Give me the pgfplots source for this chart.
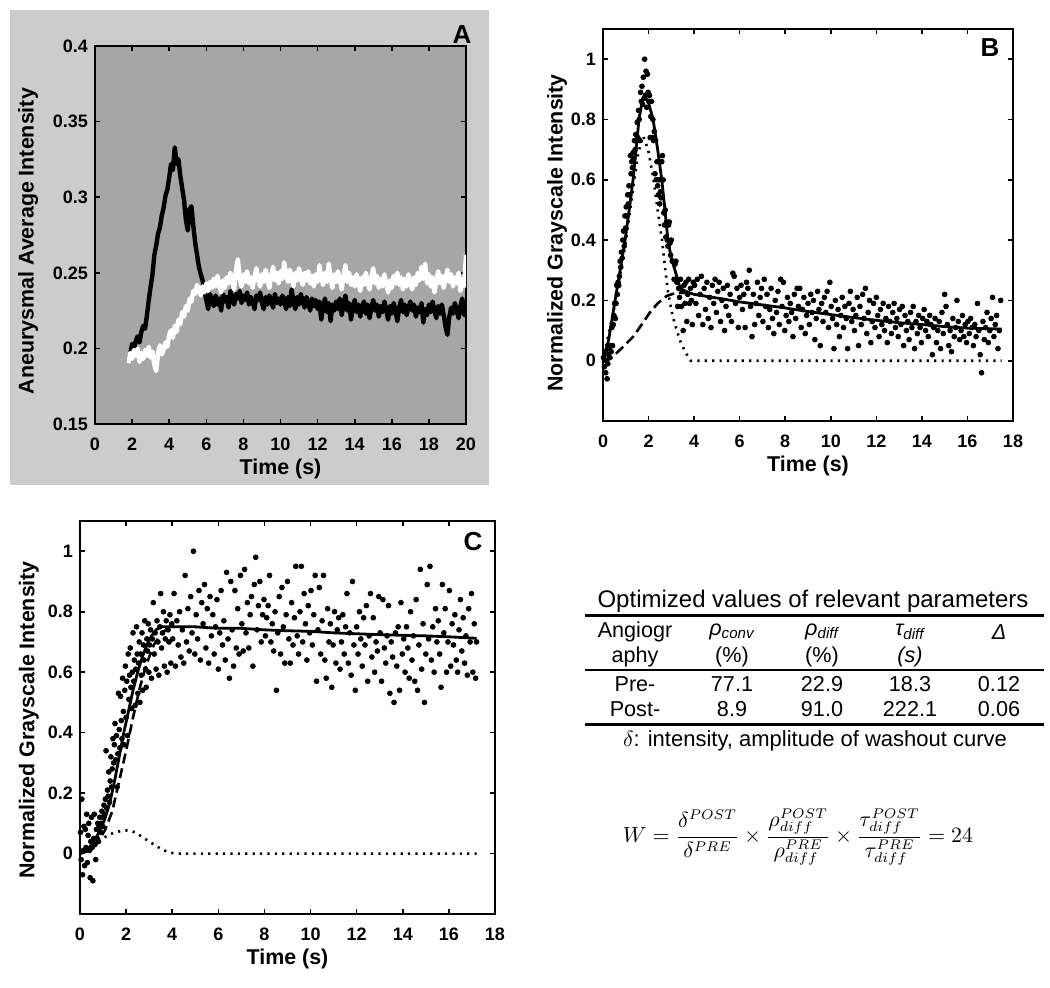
\documentclass[border=0pt]{standalone}
\usepackage{fontspec}
\setmainfont{Liberation Sans}
\usepackage{pgfplots}
\pgfplotsset{compat=1.18}
\definecolor{bggray}{RGB}{204,204,204}
\definecolor{axgray}{RGB}{166,166,166}
\pgfplotsset{myax/.style={scale only axis, tick align=inside, major tick length=2.5pt,
  axis line style={line width=0.9pt}, every tick/.style={black,line width=0.8pt},
  /pgf/number format/assume math mode=true,
  tick label style={font=\fontsize{9}{10}\selectfont\bfseries},
  xticklabel style={yshift=-3.5pt},
  label style={font=\fontsize{10.7}{12}\selectfont\bfseries}},
  fitsolid/.style={black,line width=1.4pt,line join=round},
  fitdash/.style={black,line width=1.3pt,dash pattern=on 5pt off 2.5pt},
  fitdot/.style={black,line width=1.3pt,dash pattern=on 1.1pt off 2.6pt},
  dots/.style={only marks,mark=*,mark size=1.2pt,black}}
\begin{document}
\begin{tikzpicture}
\path[use as bounding box, fill=white] (0,0) rectangle (525pt,-493.5pt);
\fill[bggray] (5pt,-5pt) rectangle (244.5pt,-242.5pt);
% ---------------- Panel A ----------------
\begin{axis}[myax, at={(47.5pt,-23pt)}, anchor=north west, width=185.5pt, height=189pt,
  xmin=0,xmax=20,ymin=0.15,ymax=0.4, xtick={0,2,...,20}, ytick={0.15,0.2,0.25,0.3,0.35,0.4},
  axis background/.style={fill=axgray},
  xlabel={Time (s)}, ylabel={Aneurysmal Average Intensity},
  xlabel style={at={(axis description cs:0.5,-0.118)},anchor=center},
  ylabel style={at={(axis description cs:-0.18,0.484)},anchor=center}]
\addplot[black,line width=2.2pt,line join=round] coordinates {
(1.8,.190)(1.9,.196)(2.0,.203)(2.1,.199)(2.2,.205)(2.3,.208)(2.4,.204)(2.5,.211)(2.6,.215)(2.7,.213)
(2.8,.222)(2.9,.232)(3.0,.241)(3.1,.249)(3.2,.262)(3.3,.268)(3.4,.276)(3.5,.280)(3.6,.288)(3.7,.293)
(3.8,.301)(3.9,.305)(4.0,.313)(4.1,.322)(4.2,.318)(4.3,.333)(4.4,.322)(4.5,.325)(4.6,.314)(4.7,.306)
(4.8,.298)(4.9,.285)(5.0,.278)(5.1,.292)(5.2,.294)(5.3,.281)(5.4,.270)(5.5,.262)(5.6,.254)(5.7,.249)
(5.8,.245)(5.9,.238)(6.0,.232)(6.1,.226)(6.2,.236)(6.3,.231)(6.4,.228)(6.5,.235)(6.6,.229)(6.7,.233)
(6.8,.225)(6.9,.236)(7.0,.231)(7.1,.234)(7.2,.227)(7.3,.238)(7.4,.232)(7.5,.229)(7.6,.236)(7.7,.233)
(7.8,.238)(7.9,.230)(8.0,.235)(8.1,.232)(8.2,.237)(8.3,.229)(8.4,.234)(8.5,.231)(8.6,.226)(8.7,.235)
(8.8,.232)(8.9,.237)(9.0,.230)(9.1,.226)(9.2,.234)(9.3,.229)(9.4,.235)(9.5,.231)(9.6,.227)(9.7,.236)
(9.8,.230)(9.9,.233)(10.0,.229)(10.1,.235)(10.2,.232)(10.3,.226)(10.4,.234)(10.5,.228)(10.6,.239)(10.7,.231)
(10.8,.226)(10.9,.234)(11.0,.229)(11.1,.236)(11.2,.231)(11.3,.227)(11.4,.234)(11.5,.230)(11.6,.225)(11.7,.233)
(11.8,.228)(11.9,.232)(12.0,.226)(12.1,.231)(12.2,.219)(12.3,.228)(12.4,.233)(12.5,.224)(12.6,.230)(12.7,.218)
(12.8,.229)(12.9,.225)(13.0,.231)(13.1,.226)(13.2,.233)(13.3,.222)(13.4,.229)(13.5,.235)(13.6,.225)(13.7,.230)
(13.8,.219)(13.9,.227)(14.0,.232)(14.1,.224)(14.2,.229)(14.3,.221)(14.4,.228)(14.5,.231)(14.6,.223)(14.7,.229)
(14.8,.220)(14.9,.227)(15.0,.232)(15.1,.225)(15.2,.229)(15.3,.221)(15.4,.228)(15.5,.224)(15.6,.231)(15.7,.226)
(15.8,.219)(15.9,.228)(16.0,.223)(16.1,.230)(16.2,.225)(16.3,.218)(16.4,.227)(16.5,.232)(16.6,.224)(16.7,.229)
(16.8,.222)(16.9,.227)(17.0,.231)(17.1,.225)(17.2,.229)(17.3,.221)(17.4,.227)(17.5,.224)(17.6,.230)(17.7,.217)
(17.8,.226)(17.9,.222)(18.0,.229)(18.1,.224)(18.2,.231)(18.3,.225)(18.4,.220)(18.5,.228)(18.6,.223)(18.7,.229)
(18.8,.222)(18.9,.214)(19.0,.209)(19.1,.221)(19.2,.227)(19.3,.223)(19.4,.230)(19.5,.225)(19.6,.220)(19.7,.228)
(19.8,.233)(19.9,.222)(20.0,.226)};
\addplot[white,line width=2.2pt,line join=round] coordinates {
(1.8,.190)(1.9,.197)(2.0,.193)(2.1,.199)(2.2,.195)(2.3,.200)(2.4,.191)(2.5,.197)(2.6,.193)(2.7,.199)
(2.8,.195)(2.9,.201)(3.0,.194)(3.1,.198)(3.2,.189)(3.3,.185)(3.4,.197)(3.5,.202)(3.6,.196)(3.7,.199)
(3.8,.204)(3.9,.201)(4.0,.209)(4.1,.212)(4.2,.207)(4.3,.215)(4.4,.211)(4.5,.219)(4.6,.216)(4.7,.224)
(4.8,.221)(4.9,.228)(5.0,.225)(5.1,.233)(5.2,.231)(5.3,.238)(5.4,.236)(5.5,.242)(5.6,.239)(5.7,.235)
(5.8,.241)(5.9,.237)(6.0,.243)(6.1,.238)(6.2,.244)(6.3,.240)(6.4,.246)(6.5,.241)(6.6,.248)(6.7,.242)
(6.8,.237)(6.9,.245)(7.0,.240)(7.1,.247)(7.2,.243)(7.3,.250)(7.4,.244)(7.5,.239)(7.6,.252)(7.7,.259)
(7.8,.246)(7.9,.241)(8.0,.249)(8.1,.244)(8.2,.251)(8.3,.243)(8.4,.247)(8.5,.240)(8.6,.248)(8.7,.253)
(8.8,.245)(8.9,.241)(9.0,.249)(9.1,.244)(9.2,.252)(9.3,.246)(9.4,.240)(9.5,.248)(9.6,.254)(9.7,.245)
(9.8,.250)(9.9,.243)(10.0,.251)(10.1,.246)(10.2,.257)(10.3,.249)(10.4,.244)(10.5,.252)(10.6,.247)(10.7,.241)
(10.8,.250)(10.9,.245)(11.0,.253)(11.1,.246)(11.2,.242)(11.3,.250)(11.4,.245)(11.5,.251)(11.6,.243)(11.7,.248)
(11.8,.241)(11.9,.249)(12.0,.244)(12.1,.255)(12.2,.247)(12.3,.242)(12.4,.250)(12.5,.244)(12.6,.256)(12.7,.246)
(12.8,.240)(12.9,.249)(13.0,.244)(13.1,.251)(13.2,.245)(13.3,.239)(13.4,.248)(13.5,.255)(13.6,.244)(13.7,.250)
(13.8,.242)(13.9,.247)(14.0,.241)(14.1,.249)(14.2,.244)(14.3,.238)(14.4,.247)(14.5,.242)(14.6,.250)(14.7,.244)
(14.8,.239)(14.9,.247)(15.0,.253)(15.1,.243)(15.2,.248)(15.3,.240)(15.4,.246)(15.5,.241)(15.6,.249)(15.7,.243)
(15.8,.237)(15.9,.245)(16.0,.240)(16.1,.248)(16.2,.243)(16.3,.250)(16.4,.242)(16.5,.247)(16.6,.239)(16.7,.246)
(16.8,.241)(16.9,.249)(17.0,.244)(17.1,.239)(17.2,.247)(17.3,.242)(17.4,.250)(17.5,.245)(17.6,.254)(17.7,.246)
(17.8,.256)(17.9,.243)(18.0,.249)(18.1,.241)(18.2,.247)(18.3,.237)(18.4,.245)(18.5,.251)(18.6,.243)(18.7,.248)
(18.8,.240)(18.9,.246)(19.0,.252)(19.1,.244)(19.2,.249)(19.3,.241)(19.4,.247)(19.5,.243)(19.6,.250)(19.7,.238)
(19.8,.246)(19.9,.241)(20.0,.262)};
\end{axis}
\node[font=\fontsize{13}{14}\selectfont\bfseries] at (231pt,-17.5pt) {A};
% ---------------- Panel B ----------------
\begin{axis}[myax, at={(301.5pt,-14.5pt)}, anchor=north west, width=205pt, height=196pt,
  xmin=0,xmax=18,ymin=-0.2,ymax=1.1, xtick={0,2,...,18}, ytick={0,0.2,0.4,0.6,0.8,1},
  xlabel={Time (s)}, ylabel={Normalized Grayscale Intensity},
  xlabel style={at={(axis description cs:0.5,-0.115)},anchor=center},
  ylabel style={at={(axis description cs:-0.112,0.48)},anchor=center}]
\addplot[dots] coordinates {
(0.02,0.01)(0.06,-0.02)(0.09,0.03)(0.12,-0.04)(0.15,0.00)(0.18,-0.06)(0.21,-0.01)(0.24,0.02)(0.27,0.04)(0.30,0.01)
(0.33,0.05)(0.36,0.03)(0.39,0.11)(0.42,0.05)(0.45,0.12)(0.48,0.15)(0.51,0.19)(0.54,0.14)(0.57,0.19)(0.60,0.25)
(0.63,0.22)(0.66,0.26)(0.69,0.25)(0.72,0.28)(0.75,0.33)(0.78,0.31)(0.81,0.36)(0.84,0.34)(0.87,0.40)(0.90,0.43)
(0.93,0.38)(0.96,0.48)(0.99,0.44)(1.02,0.51)(1.05,0.48)(1.08,0.55)(1.11,0.52)(1.14,0.58)(1.17,0.55)(1.20,0.68)
(1.23,0.62)(1.26,0.66)(1.29,0.64)(1.32,0.69)(1.35,0.67)(1.38,0.73)(1.41,0.70)(1.44,0.75)(1.47,0.73)(1.50,0.79)
(1.53,0.74)(1.56,0.83)(1.59,0.80)(1.62,0.73)(1.65,0.89)(1.68,0.86)(1.71,0.91)(1.74,0.85)(1.77,0.94)(1.80,0.87)
(1.83,1.00)(1.86,0.88)(1.89,0.96)(1.92,0.84)(1.95,0.95)(1.98,0.89)(2.01,0.86)(2.04,0.88)(2.07,0.74)(2.10,0.81)
(2.13,0.86)(2.16,0.74)(2.19,0.80)(2.22,0.73)(2.25,0.76)(2.28,0.62)(2.31,0.73)(2.34,0.60)(2.37,0.66)(2.40,0.58)
(2.43,0.55)(2.46,0.60)(2.49,0.52)(2.52,0.56)(2.55,0.54)(2.58,0.66)(2.61,0.68)(2.64,0.60)(2.67,0.49)(2.70,0.45)
(2.73,0.50)(2.76,0.41)(2.79,0.46)(2.82,0.40)(2.85,0.38)(2.88,0.45)(2.91,0.46)(2.94,0.39)(2.97,0.35)(3.00,0.40)
(3.04,0.33)(3.08,0.33)(3.12,0.27)(3.16,0.32)(3.20,0.33)(3.24,0.26)(3.28,0.18)(3.32,0.24)(3.36,0.21)(3.40,0.27)
(3.44,0.18)(3.48,0.23)(3.52,0.10)(3.56,0.25)(3.60,0.19)(3.64,0.26)(3.68,0.13)(3.72,0.22)(3.76,0.27)(3.80,0.19)
(3.84,0.24)(3.88,0.20)(3.92,0.12)(3.96,0.26)
(4.02,.25)(4.08,.19)(4.14,.27)(4.20,.15)(4.26,.22)(4.32,.28)(4.38,.12)(4.44,.24)(4.50,.17)(4.56,.26)
(4.62,.14)(4.68,.21)(4.74,.11)(4.80,.25)(4.86,.19)(4.92,.27)(4.98,.16)(5.04,.23)(5.10,.26)(5.16,.13)
(5.22,.20)(5.28,.24)(5.34,.10)(5.40,.18)(5.46,.25)(5.52,.15)(5.58,.22)(5.64,.13)(5.70,.29)(5.76,.28)
(5.82,.19)(5.88,.24)(5.94,.11)(6.00,.21)(6.06,.25)(6.12,.17)(6.18,.22)(6.24,.11)(6.30,.26)(6.36,.24)
(6.42,.30)(6.48,.18)(6.54,.08)(6.60,.22)(6.66,.12)(6.72,.19)(6.78,.26)(6.84,.15)(6.90,.21)(6.96,.24)
(7.02,.13)(7.08,.27)(7.14,.18)(7.20,.22)(7.26,.11)(7.32,.17)(7.38,.24)(7.44,.14)(7.50,.09)(7.56,.20)
(7.62,.16)(7.68,.23)(7.74,.12)(7.80,.27)(7.86,.18)(7.92,.26)(7.98,.10)(8.04,.15)(8.10,.21)(8.16,.13)
(8.22,.19)(8.28,.16)(8.34,.08)(8.40,.22)(8.46,.14)(8.52,.24)(8.58,.18)(8.64,.24)(8.70,.11)(8.76,.17)
(8.82,.21)(8.88,.09)(8.94,.15)(9.00,.19)(9.06,.12)(9.12,.22)(9.18,.16)(9.24,.20)(9.30,.07)(9.36,.14)
(9.42,.23)(9.48,.17)(9.54,.05)(9.60,.19)(9.66,.13)(9.72,.21)(9.78,.16)(9.84,.23)(9.90,.11)(9.96,.26)
(10.02,.18)(10.08,.14)(10.14,.04)(10.20,.20)(10.26,.12)(10.32,.17)(10.38,.08)(10.44,.15)(10.50,.21)(10.56,.11)
(10.62,.18)(10.68,.14)(10.74,.04)(10.80,.19)(10.86,.23)(10.92,.13)(10.98,.17)(11.04,.10)(11.10,.15)(11.16,.21)
(11.22,.05)(11.28,.18)(11.34,.12)(11.40,.22)(11.46,.14)(11.52,.24)(11.58,.09)(11.64,.16)(11.70,.20)(11.76,.06)
(11.82,.13)(11.88,.19)(11.94,.11)(12.00,.21)(12.06,.15)(12.12,.08)(12.18,.17)(12.24,.12)(12.30,.19)(12.36,.10)
(12.42,.14)(12.48,.06)(12.54,.18)(12.60,.13)(12.66,.09)(12.72,.16)(12.78,.19)(12.84,.11)(12.90,.14)(12.96,.08)
(13.02,.17)(13.08,.12)(13.14,.18)(13.20,.05)(13.26,.15)(13.32,.10)(13.38,.13)(13.44,.07)(13.50,.16)(13.56,.11)
(13.62,.18)(13.68,.04)(13.74,.13)(13.80,.09)(13.86,.15)(13.92,.11)(13.98,.06)(14.04,.14)(14.10,.17)(14.16,.10)
(14.22,.13)(14.28,.08)(14.34,.15)(14.40,.12)(14.46,.02)(14.52,.11)(14.58,.14)(14.64,.06)(14.70,.10)(14.76,.13)
(14.82,.04)(14.88,.16)(14.94,.09)(15.00,.22)(15.06,.18)(15.12,.12)(15.18,.05)(15.24,.10)(15.30,.03)(15.36,.14)
(15.42,.08)(15.48,.11)(15.54,.20)(15.60,.13)(15.66,.07)(15.72,.10)(15.78,.15)(15.84,.08)(15.90,.12)(15.96,.06)
(16.02,.13)(16.08,.09)(16.14,.14)(16.20,.11)(16.26,.05)(16.32,.12)(16.38,.08)(16.44,.19)(16.50,.10)(16.56,.02)
(16.62,-.04)(16.68,.13)(16.74,.07)(16.80,.11)(16.86,.16)(16.92,.06)(16.98,.10)(17.04,.14)(17.10,.21)(17.16,.08)
(17.22,.12)(17.28,.15)(17.34,.04)(17.40,.10)(17.46,.20)};
\addplot[fitdot] coordinates {(0,0)(0.53,0.19)(0.97,0.38)(1.32,0.57)(1.55,0.69)(1.76,0.745)(1.98,0.70)(2.2,0.61)(2.4,0.50)(2.59,0.40)(2.72,0.31)(2.85,0.23)(3.05,0.15)(3.24,0.10)(3.42,0.06)(3.6,0.03)(3.85,0)(17.5,0)};
\addplot[fitdash] coordinates {(0,0)(0.38,0.01)(0.8,0.04)(1.33,0.08)(1.7,0.12)(2.06,0.16)(2.4,0.19)(2.8,0.215)(3.2,0.225)(3.6,0.225)};
\addplot[fitsolid] coordinates {(0,0)(0.25,0.07)(0.53,0.2)(0.75,0.3)(0.97,0.4)(1.15,0.5)(1.32,0.6)(1.45,0.7)(1.58,0.8)(1.72,0.86)(1.84,0.875)(1.98,0.86)(2.2,0.8)(2.4,0.7)(2.58,0.6)(2.72,0.5)(2.85,0.4)(3.0,0.34)(3.16,0.3)(3.35,0.25)(3.5,0.235)(3.8,0.225)(4,0.22)(5,0.208)(6,0.195)(7,0.185)(8,0.175)(9,0.163)(10,0.153)(11,0.143)(12,0.134)(13,0.126)(14,0.12)(15,0.113)(16,0.108)(17.5,0.105)};
\end{axis}
\node[font=\fontsize{13}{14}\selectfont\bfseries] at (495pt,-24pt) {B};
% ---------------- Panel C ----------------
\begin{axis}[myax, at={(40pt,-260.5pt)}, anchor=north west, width=207.5pt, height=196.5pt,
  xmin=0,xmax=18,ymin=-0.2,ymax=1.1, xtick={0,2,...,18}, ytick={0,0.2,0.4,0.6,0.8,1},
  xlabel={Time (s)}, ylabel={Normalized Grayscale Intensity},
  xlabel style={at={(axis description cs:0.5,-0.115)},anchor=center},
  ylabel style={at={(axis description cs:-0.123,0.494)},anchor=center}]
\addplot[dots] coordinates {
(0.02,0.07)(0.05,-0.02)(0.08,0.18)(0.11,-0.07)(0.14,0.01)(0.17,0.09)(0.20,-0.04)(0.23,0.08)(0.26,0.02)(0.29,0.13)
(0.32,-0.03)(0.35,0.06)(0.38,0.10)(0.41,0.01)(0.44,-0.08)(0.47,0.04)(0.50,0.12)(0.53,0.02)(0.56,-0.09)(0.59,0.05)
(0.62,0.13)(0.65,0.03)(0.68,-0.02)(0.71,0.08)(0.74,0.05)(0.77,0.10)(0.80,0.04)(0.83,0.09)(0.86,0.12)(0.89,0.07)
(0.92,0.10)(0.95,0.14)(0.98,0.09)(1.01,0.12)(1.04,0.16)(1.07,0.13)(1.10,0.18)(1.13,0.34)(1.16,0.15)(1.19,0.21)
(1.22,0.19)(1.25,0.27)(1.28,0.17)(1.31,0.24)(1.34,0.32)(1.37,0.22)(1.40,0.28)(1.43,0.38)(1.46,0.30)(1.49,0.36)
(1.52,0.43)(1.55,0.31)(1.58,0.39)(1.61,0.22)(1.64,0.33)(1.67,0.53)(1.70,0.41)(1.73,0.35)(1.76,0.52)(1.79,0.44)
(1.82,0.38)(1.85,0.58)(1.88,0.47)(1.91,0.36)(1.94,0.54)(1.97,0.62)(2.00,0.45)(2.03,0.57)(2.06,0.39)(2.09,0.66)
(2.12,0.51)(2.15,0.59)(2.18,0.68)(2.21,0.55)(2.24,0.48)(2.27,0.60)(2.30,0.73)(2.33,0.57)(2.36,0.64)(2.39,0.49)
(2.42,0.61)(2.45,0.75)(2.48,0.66)(2.51,0.53)(2.54,0.63)(2.57,0.70)(2.60,0.50)(2.63,0.66)(2.66,0.59)(2.69,0.73)
(2.72,0.54)(2.75,0.69)(2.78,0.64)(2.81,0.77)(2.84,0.61)(2.87,0.55)(2.90,0.71)(2.93,0.67)(2.96,0.76)(2.99,0.60)
(3.02,0.69)(3.06,0.74)(3.10,0.58)(3.14,0.71)(3.18,0.83)(3.22,0.66)(3.26,0.73)(3.30,0.61)(3.34,0.77)(3.38,0.70)
(3.42,0.59)(3.46,0.75)(3.50,0.86)(3.54,0.68)(3.58,0.73)(3.62,0.80)(3.66,0.62)(3.70,0.71)(3.74,0.77)(3.78,0.60)
(3.82,0.74)(3.86,0.70)(3.90,0.79)(3.94,0.63)(3.98,0.76)
(4.02,.71)(4.08,.86)(4.14,.62)(4.20,.77)(4.26,.69)(4.32,.80)(4.38,.65)(4.44,.74)(4.50,.63)(4.56,.92)
(4.62,.70)(4.68,.81)(4.74,.67)(4.80,.85)(4.86,.73)(4.92,1.00)(4.98,.66)(5.04,.79)(5.10,.71)(5.16,.87)
(5.22,.64)(5.28,.83)(5.34,.76)(5.40,.89)(5.46,.68)(5.52,.81)(5.58,.63)(5.64,.85)(5.70,.72)(5.76,.79)
(5.82,.66)(5.88,.75)(5.94,.84)(6.00,.61)(6.06,.73)(6.12,.87)(6.18,.69)(6.24,.77)(6.30,.64)(6.36,.93)
(6.42,.71)(6.48,.58)(6.54,.90)(6.60,.74)(6.66,.62)(6.72,.87)(6.78,.68)(6.84,.81)(6.90,.66)(6.96,.92)
(7.02,.76)(7.08,.67)(7.14,.94)(7.20,.73)(7.26,.83)(7.32,.68)(7.38,.79)(7.44,.85)(7.50,.62)(7.56,.89)
(7.62,.98)(7.68,.74)(7.74,.82)(7.80,.90)(7.86,.70)(7.92,.79)(7.98,.84)(8.04,.72)(8.10,.78)(8.16,.82)
(8.22,.92)(8.28,.70)(8.34,.76)(8.40,.67)(8.46,.80)(8.52,.54)(8.58,.73)(8.64,.85)(8.70,.66)(8.76,.88)
(8.82,.75)(8.88,.63)(8.94,.79)(9.00,.90)(9.06,.71)(9.12,.63)(9.18,.83)(9.24,.69)(9.30,.78)(9.36,.95)
(9.42,.72)(9.48,.66)(9.54,.80)(9.60,.95)(9.66,.70)(9.72,.86)(9.78,.76)(9.84,.64)(9.90,.82)(9.96,.73)
(10.02,.87)(10.08,.69)(10.14,.79)(10.20,.92)(10.26,.57)(10.32,.74)(10.38,.88)(10.44,.66)(10.50,.77)(10.56,.92)
(10.62,.64)(10.68,.58)(10.74,.81)(10.80,.70)(10.86,.76)(10.92,.55)(10.98,.69)(11.04,.80)(11.10,.63)(11.16,.74)
(11.22,.78)(11.28,.61)(11.34,.70)(11.40,.79)(11.46,.66)(11.52,.75)(11.58,.86)(11.64,.63)(11.70,.73)(11.76,.59)
(11.82,.90)(11.88,.69)(11.94,.54)(12.00,.75)(12.06,.66)(12.12,.80)(12.18,.71)(12.24,.62)(12.30,.78)(12.36,.69)
(12.42,.82)(12.48,.57)(12.54,.72)(12.60,.86)(12.66,.65)(12.72,.78)(12.78,.60)(12.84,.70)(12.90,.67)(12.96,.85)
(13.02,.73)(13.08,.57)(13.14,.84)(13.20,.68)(13.26,.63)(13.32,.72)(13.38,.82)(13.44,.53)(13.50,.70)(13.56,.65)
(13.62,.50)(13.68,.73)(13.74,.62)(13.80,.75)(13.86,.54)(13.92,.83)(13.98,.66)(14.04,.71)(14.10,.60)(14.16,.75)
(14.22,.68)(14.28,.58)(14.34,.80)(14.40,.64)(14.46,.72)(14.52,.57)(14.58,.84)(14.64,.54)(14.70,.69)(14.76,.94)
(14.82,.61)(14.88,.76)(14.94,.50)(15.00,.66)(15.06,.89)(15.12,.71)(15.18,.95)(15.24,.64)(15.30,.75)(15.36,.60)
(15.42,.81)(15.48,.70)(15.54,.77)(15.60,.66)(15.66,.55)(15.72,.89)(15.78,.73)(15.84,.81)(15.90,.60)(15.96,.70)
(16.02,.87)(16.08,.62)(16.14,.76)(16.20,.69)(16.26,.79)(16.32,.64)(16.38,.60)(16.44,.74)(16.50,.84)(16.56,.67)
(16.62,.78)(16.68,.63)(16.74,.72)(16.80,.59)(16.86,.81)(16.92,.70)(16.98,.86)(17.04,.60)(17.10,.76)(17.16,.58)
(17.20,.70)};
\addplot[fitdot] coordinates {(0,0)(0.3,0.01)(0.6,0.025)(0.9,0.045)(1.2,0.06)(1.5,0.07)(1.8,0.075)(2.1,0.077)(2.4,0.07)(2.7,0.055)(3.0,0.04)(3.3,0.025)(3.6,0.012)(3.9,0.003)(4.2,0)(17.2,0)};
\addplot[fitdash] coordinates {(0,0)(0.4,0.01)(0.8,0.04)(1.1,0.08)(1.4,0.14)(1.7,0.24)(2.0,0.34)(2.3,0.45)(2.6,0.55)(2.9,0.63)(3.2,0.69)(3.5,0.725)(3.8,0.745)(4.1,0.75)};
\addplot[fitsolid] coordinates {(0,0)(0.3,0.01)(0.6,0.04)(0.9,0.08)(1.1,0.12)(1.3,0.17)(1.5,0.24)(1.7,0.32)(1.9,0.40)(2.1,0.47)(2.3,0.54)(2.5,0.60)(2.7,0.65)(2.9,0.69)(3.1,0.72)(3.3,0.74)(3.5,0.75)(4,0.75)(5,0.75)(6,0.745)(7,0.745)(8,0.74)(9,0.737)(10,0.735)(11,0.73)(12,0.727)(13,0.724)(14,0.722)(15,0.72)(16,0.717)(17.2,0.712)};
\end{axis}
\node[font=\fontsize{13}{14}\selectfont\bfseries] at (236.5pt,-271pt) {C};
% ---------------- Table ----------------
\node[font=\fontsize{12}{14}\selectfont] at (406.5pt,-300.5pt) {Optimized values of relevant parameters};
\draw[line width=1.5pt] (292.5pt,-307.5pt) -- (522pt,-307.5pt);
\begin{scope}[every node/.style={font=\fontsize{10.8}{12}\selectfont}]
\node at (317.5pt,-316pt) {Angiogr};
\node at (317.5pt,-328.5pt) {aphy};
\node at (366pt,-316pt) {\itshape ρ\textsubscript{conv}};
\node at (366pt,-328.5pt) {(\%)};
\node at (411pt,-316pt) {\itshape ρ\textsubscript{diff}};
\node at (411pt,-328.5pt) {(\%)};
\node at (455pt,-316pt) {\itshape τ\textsubscript{diff}};
\node at (455pt,-328.5pt) {\itshape (s)};
\node at (499.5pt,-316pt) {\itshape Δ};
\node at (317.5pt,-342pt) {Pre-};
\node at (366pt,-342pt) {77.1};
\node at (411pt,-342pt) {22.9};
\node at (455pt,-342pt) {18.3};
\node at (499.5pt,-342pt) {0.12};
\node at (317.5pt,-354.5pt) {Post-};
\node at (366pt,-354.5pt) {8.9};
\node at (411pt,-354.5pt) {91.0};
\node at (455pt,-354.5pt) {222.1};
\node at (499.5pt,-354.5pt) {0.06};
\end{scope}
\draw[line width=0.6pt] (292.5pt,-335pt) -- (522pt,-335pt);
\draw[line width=1.5pt] (292.5pt,-362pt) -- (522pt,-362pt);
\node[font=\fontsize{11}{13}\selectfont] at (407.5pt,-370.5pt) {$\delta$: intensity, amplitude of washout curve};
\node[font=\fontsize{10.5}{13}\selectfont] at (399pt,-418.5pt) {$\displaystyle W=\frac{\delta^{POST}}{\delta^{PRE}}\times\frac{\rho^{POST}_{diff}}{\rho^{PRE}_{diff}}\times\frac{\tau^{POST}_{diff}}{\tau^{PRE}_{diff}}=24$};
\end{tikzpicture}
\end{document}
